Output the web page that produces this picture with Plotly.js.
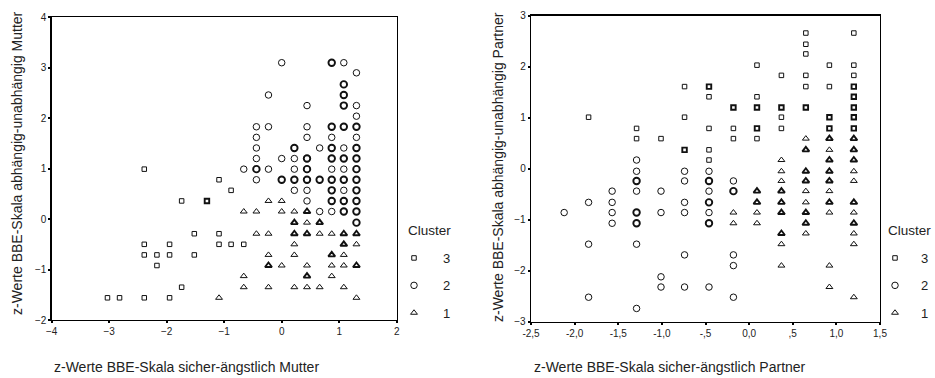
<!DOCTYPE html>
<html>
<head>
<meta charset="utf-8">
<script src="https://cdn.plot.ly/plotly-3.0.1.min.js"></script>
<style>html,body{margin:0;padding:0;background:#fff;}#chart{width:935px;height:378px;}</style>
</head>
<body>
<div id="chart"></div>
<script>
// ---------- Data (duplicates = overlapping cases) ----------
// Left panel: Mutter. Each row: y value, list of x values at that y.
const mutterC3Rows = [0.99, 0.78, 0.57, 0.36, -0.29, -0.50, -0.71, -0.92, -1.35, -1.56];
const mutterC3Cols = [[-2.39],[-1.09],[-0.88],[-1.74,-1.30,-1.30],[-1.52,-1.09],
  [-2.39,-1.95,-1.09,-0.88,-0.66],[-2.39,-2.17,-1.95,-1.52],[-2.17],[-1.74],[-3.03,-2.82,-2.39,-1.95]];

const mutterC2Rows = [3.10, 2.90, 2.67, 2.46, 2.25, 2.04, 1.83, 1.62, 1.41, 1.20, 0.99, 0.78, 0.57, 0.36, 0.15, -0.07];
const mutterC2Cols = [
  [0.00,0.87,0.87,1.08],[1.30],[1.08,1.08],[-0.23,1.08,1.08],[0.44,1.08,1.08,1.30],[1.30],
  [-0.44,-0.23,0.44,0.87,0.87,1.08,1.08,1.30,1.30],[-0.44,0.44,0.87,1.30],
  [-0.44,0.22,0.22,0.66,0.87,0.87,1.08,1.30,1.30],
  [-0.44,0.00,0.22,0.44,0.44,0.87,0.87,1.08,1.08,1.30,1.30],
  [-0.66,-0.44,-0.44,-0.23,0.22,0.44,0.44,0.87,1.08,1.30,1.30],
  [-0.44,0.00,0.00,0.22,0.22,0.44,0.44,0.66,0.66,0.87,0.87,1.08,1.08,1.30,1.30],
  [0.22,0.44,0.87,0.87,1.08,1.30,1.30],[0.44,0.87,0.87,1.08,1.08,1.30,1.30],
  [0.66,0.87,1.08,1.08,1.30,1.30],[1.30,1.30]];

const mutterC1Rows = [0.36, 0.15, -0.07, -0.29, -0.50, -0.71, -0.92, -1.13, -1.35, -1.56];
const mutterC1Cols = [
  [-0.23,0.00],[-0.66,-0.44,0.00,0.22,0.44,0.44],[0.22,0.22,0.44,0.66,0.66],
  [-0.44,-0.23,0.22,0.22,0.44,0.44,0.66,0.87,1.08,1.08,1.30,1.30],[0.22,1.08,1.08,1.30],
  [-0.23,0.22,0.87,0.87,1.08],[-0.23,-0.23,0.00,0.44,0.87,1.08,1.30,1.30],
  [-0.66,0.44,0.44,0.87],[-0.66,-0.23,0.22,0.44,0.66,1.08],[-1.09,1.30]];

// Right panel: Partner.
const partnerC3Rows = [2.66, 2.44, 2.25, 2.03, 1.83, 1.61, 1.41, 1.20, 1.01, 0.79, 0.59, 0.37, 0.17];
const partnerC3Cols = [
  [0.65,1.20],[0.65],[0.65],[0.09,0.92,1.20],[0.37,0.65,1.20],
  [-0.74,-0.46,-0.46,0.65,0.92,1.20,1.20],[-0.46,0.09,1.20,1.20],
  [-0.18,-0.18,0.09,0.09,0.37,0.37,0.65,0.65,1.20,1.20],
  [-1.84,-0.74,0.37,0.92,0.92,1.20,1.20],
  [-1.29,-0.46,-0.18,0.09,0.09,0.37,0.92,0.92,1.20,1.20],
  [-1.29,-1.01,-0.18,0.09],[-0.74,-0.74,-0.46],[-0.46]];

const partnerC2Rows = [0.17, -0.05, -0.24, -0.44, -0.66, -0.86, -1.07, -1.48, -1.69, -1.90, -2.12, -2.32, -2.52, -2.74];
const partnerC2Cols = [
  [-1.29],[-1.29,-0.74,-0.46],[-1.29,-1.29,-0.74,-0.46,-0.46,-0.18],
  [-1.57,-1.29,-1.01,-0.46,-0.18,-0.18],[-1.84,-1.57,-0.74,-0.46,-0.46],
  [-2.12,-1.57,-1.29,-1.29,-1.01,-0.74,-0.46],[-1.57,-1.29,-1.29,-0.46,-0.46,-0.46],
  [-1.84,-1.29],[-0.74,-0.18],[-0.18],[-1.01],[-1.01,-0.74,-0.46],[-1.84,-0.18],[-1.29]];

const partnerC1Rows = [0.59, 0.37, 0.17, -0.05, -0.24, -0.44, -0.66, -0.86, -1.07, -1.27, -1.48, -1.90, -2.32, -2.52];
const partnerC1Cols = [
  [0.65,0.92,0.92,1.20,1.20],[0.65,0.65,0.92,1.20,1.20],[0.37,0.92,0.92,1.20,1.20],
  [0.37,0.65,0.65,0.92,0.92,1.20],[0.37,0.65,0.65,0.92,0.92,1.20],
  [0.09,0.09,0.37,0.37,0.65,0.92],[0.09,0.09,0.37,0.37,0.65,0.92,0.92,1.20,1.20],
  [-0.18,0.09,0.37,0.37,0.65,0.65,0.92,1.20],[-0.18,0.09,0.65,0.65,1.20,1.20],
  [0.37,0.37,0.65,1.20],[0.37,1.20],[0.37,0.92],[0.92],[1.20]];

const clusterNames = ['3', '2', '1'];
const mutterTicksX = [-4, -3, -2, -1, 0, 1, 2];
const mutterTicksY = [-2, -1, 0, 1, 2, 3, 4];
const partnerTicksX = [-2.5, -2.0, -1.5, -1.0, -0.5, 0.0, 0.5, 1.0, 1.5];
const partnerTickTextX = ['-2,5', '-2,0', '-1,5', '-1,0', '-,5', '0,0', ',5', '1,0', '1,5'];
const partnerTicksY = [-3, -2, -1, 0, 1, 2, 3];

const xTitleMutter = 'z-Werte BBE-Skala sicher-ängstlich Mutter';
const yTitleMutter = 'z-Werte BBE-Skala abhängig-unabhängig Mutter';
const xTitlePartner = 'z-Werte BBE-Skala sicher-ängstlich Partner';
const yTitlePartner = 'z-Werte BBE-Skala abhängig-unabhängig Partner';
const legendTitle = 'Cluster';

// ---------- Build ----------
function aggregate(rows, cols) {
  const map = new Map();
  rows.forEach((y, i) => cols[i].forEach(x => {
    const k = x + '|' + y;
    if (!map.has(k)) map.set(k, {x: x, y: y, n: 0});
    map.get(k).n += 1;
  }));
  return Array.from(map.values());
}

const FONT = 'Liberation Sans, Arial, Helvetica, sans-serif';
const INK = '#111';
const symbols = ['square-open', 'circle-open', 'triangle-up-open'];
const sizes = [4.5, 6.5, 6];

function makeTraces(rows, cols, ci, xa, ya, legend) {
  const pts = aggregate(rows, cols);
  const single = pts.filter(p => p.n === 1);
  const multi = pts.filter(p => p.n > 1);
  const base = (arr, lw, show) => ({
    type: 'scatter', mode: 'markers',
    x: arr.map(p => p.x), y: arr.map(p => p.y),
    xaxis: xa, yaxis: ya, legend: legend,
    name: clusterNames[ci], legendgroup: legend + clusterNames[ci], showlegend: show,
    marker: {symbol: symbols[ci], size: sizes[ci], color: INK, line: {color: INK, width: lw}},
    hoverinfo: 'x+y'
  });
  return [base(single, 1, true), base(multi, 1.9, false)];
}

const data = [].concat(
  makeTraces(mutterC3Rows, mutterC3Cols, 0, 'x', 'y', 'legend'),
  makeTraces(mutterC2Rows, mutterC2Cols, 1, 'x', 'y', 'legend'),
  makeTraces(mutterC1Rows, mutterC1Cols, 2, 'x', 'y', 'legend'),
  makeTraces(partnerC3Rows, partnerC3Cols, 0, 'x2', 'y2', 'legend2'),
  makeTraces(partnerC2Rows, partnerC2Cols, 1, 'x2', 'y2', 'legend2'),
  makeTraces(partnerC1Rows, partnerC1Cols, 2, 'x2', 'y2', 'legend2')
);

const W = 935, H = 378;
function axisBase() {
  return {
    showgrid: false, zeroline: false, showline: true, mirror: true,
    linecolor: '#000', linewidth: 1.3,
    ticks: 'outside', ticklen: 2, tickwidth: 2, tickcolor: '#000',
    tickfont: {family: FONT, size: 10, color: '#222'},
    automargin: false, fixedrange: true
  };
}

const legendBase = {
  bgcolor: 'rgba(0,0,0,0)', borderwidth: 0,
  font: {family: FONT, size: 13, color: '#222'},
  traceorder: 'grouped', tracegroupgap: 7.5,
  xanchor: 'left', yanchor: 'top'
};

const annFont = {family: FONT, size: 14, color: '#222'};
const layout = {
  width: W, height: H, autosize: false,
  margin: {l: 0, r: 0, t: 0, b: 0, autoexpand: false},
  paper_bgcolor: '#fff', plot_bgcolor: '#fff',
  font: {family: FONT, color: '#222'},
  showlegend: true,
  xaxis: Object.assign(axisBase(), {domain: [51.7 / W, 396.7 / W], range: [-4, 2],
    tickmode: 'array', tickvals: mutterTicksX, anchor: 'y'}),
  yaxis: Object.assign(axisBase(), {domain: [(H - 320) / H, (H - 17.3) / H], range: [-2, 4],
    tickmode: 'array', tickvals: mutterTicksY, anchor: 'x'}),
  xaxis2: Object.assign(axisBase(), {domain: [531 / W, 880 / W], range: [-2.5, 1.5],
    tickmode: 'array', tickvals: partnerTicksX, ticktext: partnerTickTextX, anchor: 'y2'}),
  yaxis2: Object.assign(axisBase(), {domain: [(H - 321.7) / H, (H - 15.7) / H], range: [-3, 3],
    tickmode: 'array', tickvals: partnerTicksY, anchor: 'x2'}),
  legend: Object.assign({}, legendBase, {x: 385 / W, y: (H - 243) / H, itemwidth: 48}),
  legend2: Object.assign({}, legendBase, {x: 869 / W, y: (H - 243) / H, itemwidth: 42}),
  annotations: [
    {text: legendTitle, xref: 'paper', yref: 'paper', x: 406 / W, y: (H - 230) / H,
      xanchor: 'left', yanchor: 'middle', showarrow: false, font: {family: FONT, size: 13.5, color: '#222'}},
    {text: legendTitle, xref: 'paper', yref: 'paper', x: 886 / W, y: (H - 230) / H,
      xanchor: 'left', yanchor: 'middle', showarrow: false, font: {family: FONT, size: 13.5, color: '#222'}},
    {text: xTitleMutter, xref: 'paper', yref: 'paper', x: 52 / W, y: (H - 367) / H,
      xanchor: 'left', yanchor: 'middle', showarrow: false, font: annFont},
    {text: xTitlePartner, xref: 'paper', yref: 'paper', x: 532 / W, y: (H - 367) / H,
      xanchor: 'left', yanchor: 'middle', showarrow: false, font: annFont},
    {text: yTitleMutter, xref: 'paper', yref: 'paper', x: 17 / W, y: (H - 163) / H, textangle: -90,
      xanchor: 'center', yanchor: 'middle', showarrow: false, font: annFont},
    {text: yTitlePartner, xref: 'paper', yref: 'paper', x: 498 / W, y: (H - 167) / H, textangle: -90,
      xanchor: 'center', yanchor: 'middle', showarrow: false, font: annFont}
  ]
};

Plotly.newPlot('chart', data, layout, {displayModeBar: false, staticPlot: true});
</script>
</body>
</html>
